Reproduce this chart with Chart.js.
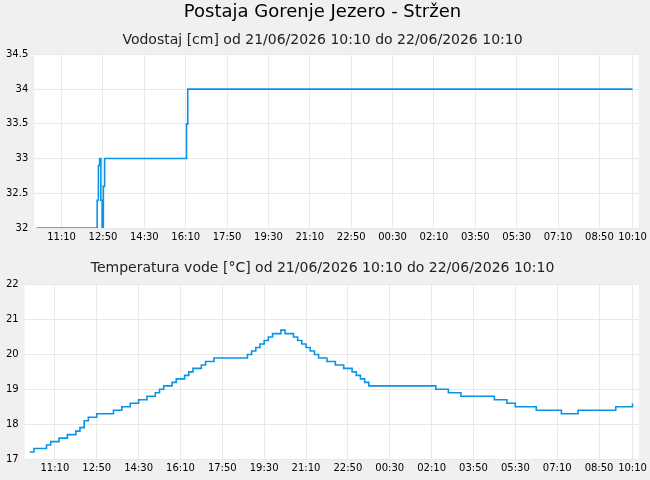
<!DOCTYPE html>
<html><head><meta charset="utf-8">
<script src="https://cdn.jsdelivr.net/npm/chart.js@4"></script>
<style>
body{margin:0;background:#f0f0f0;font-family:"DejaVu Sans";}
.w{position:absolute;left:0;width:650px;}
</style></head><body>
<div class="w" style="top:0;height:248px"><canvas id="c1" width="650" height="248"></canvas></div>
<div class="w" style="top:248px;height:232px"><canvas id="c2" width="650" height="232"></canvas></div>
<script>
const mainTitle = "Postaja Gorenje Jezero - Stržen";
const levelTitle = "Vodostaj [cm] od 21/06/2026 10:10 do 22/06/2026 10:10";
const tempTitle = "Temperatura vode [°C] od 21/06/2026 10:10 do 22/06/2026 10:10";
const tickLabels = ["11:10","12:50","14:30","16:10","17:50","19:30","21:10","22:50","00:30","02:10","03:50","05:30","07:10","08:50","10:10"];
const tickMinutes = [60,160,260,360,460,560,660,760,860,960,1060,1160,1260,1360,1440];
// water level: minutes after 10:10 and values
const levelMinutes = [0,143,146,149,152,155,158,161,164,167,170,360,362,365,370,1440];
const levelValues  = [32,32,32.4,32.9,33,32.4,32,32.6,33,33,33,33,33.5,34,34,34];
// temperature every 10 minutes from 10:10
const tempValues = [17.2,17.3,17.3,17.3,17.4,17.5,17.5,17.6,17.6,17.7,17.7,17.8,17.9,18.1,18.2,18.2,18.3,18.3,18.3,18.3,
18.4,18.4,18.5,18.5,18.6,18.6,18.7,18.7,18.8,18.8,18.9,19.0,19.1,19.1,19.2,19.3,19.3,19.4,19.5,19.6,
19.6,19.7,19.8,19.8,19.9,19.9,19.9,19.9,19.9,19.9,19.9,19.9,20.0,20.1,20.2,20.3,20.4,20.5,20.6,20.6,
20.7,20.6,20.6,20.5,20.4,20.3,20.2,20.1,20.0,19.9,19.9,19.8,19.8,19.7,19.7,19.6,19.6,19.5,19.4,19.3,
19.2,19.1,19.1,19.1,19.1,19.1,19.1,19.1,19.1,19.1,19.1,19.1,19.1,19.1,19.1,19.1,19.1,19.0,19.0,19.0,
18.9,18.9,18.9,18.8,18.8,18.8,18.8,18.8,18.8,18.8,18.8,18.7,18.7,18.7,18.6,18.6,18.5,18.5,18.5,18.5,
18.5,18.4,18.4,18.4,18.4,18.4,18.4,18.3,18.3,18.3,18.3,18.4,18.4,18.4,18.4,18.4,18.4,18.4,18.4,18.4,
18.5,18.5,18.5,18.5,18.6];

const bgPlugin={id:'bg',beforeDraw(c){const a=c.chartArea,x=c.ctx;x.save();x.fillStyle='#fff';x.fillRect(a.left,a.top,a.width,a.height);x.restore();}};
const grid='#e9e9e9';
function xScale(min,max){return {type:'linear',min:min,max:max,
  afterBuildTicks(s){s.ticks=tickMinutes.map(v=>({value:v}));},
  ticks:{autoSkip:false,maxRotation:0,color:'#000',font:{family:'DejaVu Sans',size:10},padding:3,
    callback:(v)=>{const i=tickMinutes.indexOf(v);return i>=0?tickLabels[i]:'';}},
  grid:{color:grid,drawTicks:false},border:{display:false}};}
function yScale(min,max,step){return {min:min,max:max,ticks:{stepSize:step,color:'#000',font:{family:'DejaVu Sans',size:10},padding:6,
    callback:(v)=>String(Math.round(v*10)/10)},
  grid:{color:grid,drawTicks:false},border:{display:false}};}
Chart.defaults.font.family='DejaVu Sans';
Chart.defaults.animation=false;
new Chart(document.getElementById('c1'),{type:'line',plugins:[bgPlugin],
 data:{datasets:[{data:levelMinutes.map((m,i)=>({x:m,y:levelValues[i]})),borderColor:'#0a94e8',borderWidth:1.6,pointRadius:0,tension:0,stepped:true}]},
 options:{responsive:false,layout:{padding:{left:0,right:5,top:0,bottom:2}},
  plugins:{legend:{display:false},
   title:{display:true,text:mainTitle,color:'#000',font:{size:18,weight:'normal'},padding:{top:2,bottom:8}},
   subtitle:{display:true,text:levelTitle,color:'#222',font:{size:14,weight:'normal'},padding:{bottom:6}}},
  scales:{x:xScale(-6,1455),y:yScale(32,34.5,0.5)}}});
new Chart(document.getElementById('c2'),{type:'line',plugins:[bgPlugin],
 data:{datasets:[{data:tempValues.map((v,i)=>({x:i*10,y:v})),borderColor:'#0a94e8',borderWidth:1.6,pointRadius:0,tension:0,stepped:true}]},
 options:{responsive:false,layout:{padding:{left:0,right:5,top:4,bottom:3}},
  plugins:{legend:{display:false},
   title:{display:true,text:tempTitle,color:'#222',font:{size:14,weight:'normal'},padding:{top:8,bottom:8}}},
  scales:{x:xScale(-12,1455),y:yScale(17,22,1)}}});
</script></body></html>
